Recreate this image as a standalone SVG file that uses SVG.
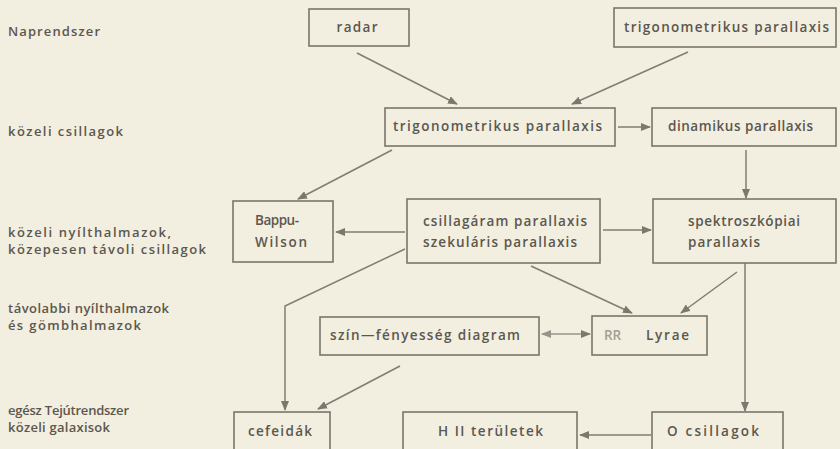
<svg xmlns="http://www.w3.org/2000/svg" width="840" height="449" viewBox="0 0 840 449">
<defs>
<marker id="ah" markerWidth="10" markerHeight="8" refX="9" refY="4" orient="auto" markerUnits="userSpaceOnUse">
<path d="M0,0 L10,4 L0,8 Z" fill="#7d776d"/>
</marker>
<marker id="ahs" markerWidth="10" markerHeight="8" refX="1" refY="4" orient="auto" markerUnits="userSpaceOnUse">
<path d="M10,0 L0,4 L10,8 Z" fill="#9a958b"/>
</marker>
<style>
.box{fill:none;stroke:#7a746a;stroke-width:1.6}
.t{font-family:"Open Sans","Liberation Sans",sans-serif;font-size:13.5px;font-weight:600;fill:#5c574e}
.m{text-anchor:middle}
.lbl{font-family:"Open Sans","Liberation Sans",sans-serif;font-size:13px;font-weight:600;fill:#5c574e}
.c{fill:none;stroke:#827c72;stroke-width:1.5;marker-end:url(#ah)}
</style>
</defs>
<rect width="840" height="449" fill="#f2eee0"/>
<g id="labels">
<text class="lbl" x="8" y="36" textLength="92" lengthAdjust="spacing">Naprendszer</text>
<text class="lbl" x="8" y="136" textLength="115" lengthAdjust="spacing">közeli csillagok</text>
<text class="lbl" x="8" y="237" textLength="163" lengthAdjust="spacing">közeli nyílthalmazok,</text>
<text class="lbl" x="8" y="254" textLength="198" lengthAdjust="spacing">közepesen távoli csillagok</text>
<text class="lbl" x="8" y="313" textLength="161" lengthAdjust="spacing">távolabbi nyílthalmazok</text>
<text class="lbl" x="8" y="330" textLength="133" lengthAdjust="spacing">és gömbhalmazok</text>
<text class="lbl" x="8" y="415" textLength="121" lengthAdjust="spacing">egész Tejútrendszer</text>
<text class="lbl" x="8" y="432" textLength="102" lengthAdjust="spacing">közeli galaxisok</text>
</g>
<g id="connectors">
<line class="c" x1="357" y1="53" x2="457" y2="104"/>
<line class="c" x1="688" y1="52" x2="572" y2="104"/>
<line class="c" x1="618" y1="127" x2="650" y2="127"/>
<line class="c" x1="746" y1="150" x2="746" y2="198"/>
<line class="c" x1="392" y1="150" x2="298" y2="199"/>
<line class="c" x1="405" y1="232" x2="336" y2="232"/>
<line class="c" x1="603" y1="230" x2="651" y2="230"/>
<polyline class="c" points="405,249 285,306 285,410"/>
<line class="c" x1="531" y1="266" x2="632" y2="313"/>
<line class="c" x1="737" y1="272" x2="681" y2="313"/>
<line class="c" x1="400" y1="366" x2="318" y2="409"/>
<line x1="542" y1="334" x2="590" y2="334" stroke="#9a958b" stroke-width="1.5" marker-start="url(#ahs)" marker-end="url(#ah)"/>
<line class="c" x1="745" y1="263" x2="745" y2="411"/>
<line class="c" x1="651" y1="435" x2="580" y2="435"/>
</g>
<g id="radar"><rect class="box" x="309" y="9" width="100" height="37"/><text class="t m" x="357" y="32" textLength="41" lengthAdjust="spacing">radar</text></g>
<g id="trig-top"><rect class="box" x="614" y="8" width="222" height="39"/><text class="t m" x="726.5" y="32" textLength="205" lengthAdjust="spacing">trigonometrikus parallaxis</text></g>
<g id="trig-mid"><rect class="box" x="385" y="108" width="230" height="38"/><text class="t m" x="497.5" y="131" textLength="209" lengthAdjust="spacing">trigonometrikus parallaxis</text></g>
<g id="dinamikus"><rect class="box" x="652" y="108" width="184" height="38"/><text class="t m" x="740.5" y="131" textLength="145" lengthAdjust="spacing">dinamikus parallaxis</text></g>
<g id="bappu"><rect class="box" x="233" y="201" width="100" height="61"/><text class="t m" x="277" y="225" textLength="44" lengthAdjust="spacing">Bappu-</text><text class="t m" x="281" y="247" textLength="52" lengthAdjust="spacing">Wilson</text></g>
<g id="csillagaram"><rect class="box" x="407" y="199" width="193" height="64"/><text class="t" x="423" y="226" textLength="164" lengthAdjust="spacing">csillagáram parallaxis</text><text class="t" x="423" y="247" textLength="154" lengthAdjust="spacing">szekuláris parallaxis</text></g>
<g id="spektro"><rect class="box" x="653" y="199" width="183" height="64"/><text class="t" x="688" y="226" textLength="112" lengthAdjust="spacing">spektroszkópiai</text><text class="t" x="688" y="247" textLength="72" lengthAdjust="spacing">parallaxis</text></g>
<g id="szin"><rect class="box" x="320" y="317" width="219" height="38"/><text class="t" x="330" y="340" textLength="190" lengthAdjust="spacing">szín—fényesség diagram</text></g>
<g id="rrlyrae"><rect class="box" x="592" y="316" width="115" height="39"/><text class="t" y="340"><tspan x="604" fill="#a39e94">RR</tspan><tspan x="646" textLength="43" lengthAdjust="spacing">Lyrae</tspan></text></g>
<g id="cefeidak"><rect class="box" x="234" y="412" width="96" height="40"/><text class="t m" x="280" y="436" textLength="64" lengthAdjust="spacing">cefeidák</text></g>
<g id="h2"><rect class="box" x="403" y="412" width="174" height="40"/><text class="t m" x="490.5" y="436" textLength="105" lengthAdjust="spacing">H II területek</text></g>
<g id="ocsillagok"><rect class="box" x="652" y="412" width="131" height="40"/><text class="t m" x="713" y="436" textLength="92" lengthAdjust="spacing">O csillagok</text></g>
</svg>
